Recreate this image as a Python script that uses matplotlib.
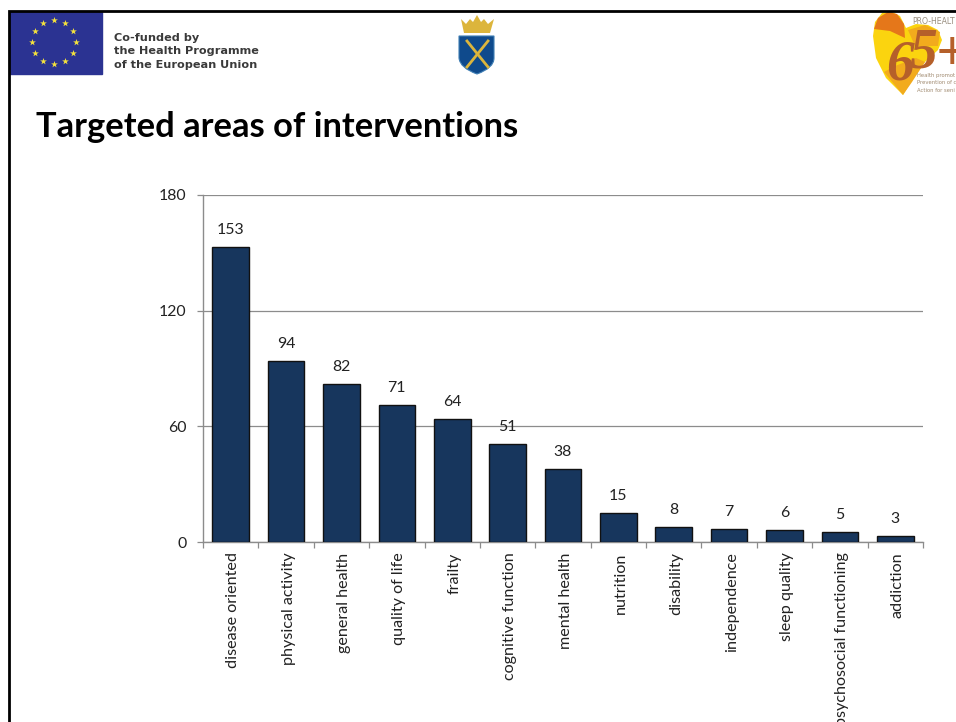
import matplotlib
matplotlib.use('Agg')
import matplotlib.pyplot as plt
import numpy as np
from matplotlib.patches import Rectangle, Polygon, PathPatch
from matplotlib.path import Path
from matplotlib.transforms import ScaledTranslation

categories = ['disease oriented', 'physical activity', 'general health', 'quality of life',
              'frailty', 'cognitive function', 'mental health', 'nutrition', 'disability',
              'independence', 'sleep quality', 'psychosocial functioning', 'addiction']
counts = [153, 94, 82, 71, 64, 51, 38, 15, 8, 7, 6, 5, 3]
yticks = [0, 60, 120, 180]

W, H = 956, 722
plt.rcParams['font.family'] = ['Lato', 'DejaVu Sans']
fig = plt.figure(figsize=(W / 100, H / 100), dpi=100)

# slide background in pixel coordinates
bg = fig.add_axes([0, 0, 1, 1], zorder=0)
bg.set_xlim(0, W)
bg.set_ylim(H, 0)
bg.axis('off')
bg.plot([8.7, 8.7, W], [H, 10.7, 10.7], color='black', lw=2.0, solid_joinstyle='miter')

# EU flag
bg.add_patch(Rectangle((10, 12), 92, 62, color='#2b3392'))
ang = np.arange(12) * np.pi / 6
bg.scatter(54 + 22 * np.cos(ang), 42 + 22 * np.sin(ang), marker='*', s=26, color='#f5e33c', lw=0)
for y, line in zip([38, 51.5, 65], ['Co-funded by', 'the Health Programme', 'of the European Union']):
    bg.text(114, y, line, family='DejaVu Sans', fontsize=8.1, weight='bold', color='#3a3a3a', va='center')

# crest
bg.add_patch(Polygon([(461, 19), (466, 24), (470, 19), (473, 22), (477, 15), (481, 22), (484, 19),
                      (488, 24), (494, 19), (490, 33), (464, 33)], color='#dcb53c', lw=0))
shield = Path([(459, 36), (494, 36), (494, 58), (494, 68), (477, 74), (460, 68), (459, 58), (459, 36)],
              [Path.MOVETO, Path.LINETO, Path.LINETO, Path.CURVE3, Path.CURVE3, Path.CURVE3, Path.CURVE3, Path.CLOSEPOLY])
bg.add_patch(PathPatch(shield, facecolor='#0f4a8c', edgecolor='#3f7fb5', lw=0.8))
bg.plot([467, 488], [41, 67], color='#dcb53c', lw=2.0)
bg.plot([488, 467], [41, 67], color='#dcb53c', lw=2.0)

# project logo
bg.add_patch(Polygon([(903, 95), (886, 78), (876, 58), (873, 36), (875, 22), (882, 13), (892, 12), (900, 16),
                      (906, 28), (916, 24), (928, 25), (938, 30), (942, 40), (938, 50), (925, 62), (912, 80)],
                     color='#fbd40f', lw=0))
bg.add_patch(Polygon([(874, 29), (878, 18), (888, 12), (897, 14), (904, 24), (905, 38), (890, 31)], color='#e5771a', lw=0))
bg.add_patch(Polygon([(884, 72), (903, 95), (912, 82), (925, 62), (916, 58), (895, 66)], color='#f2ab1d', lw=0))
bg.add_patch(Polygon([(908, 30), (925, 25), (940, 32), (938, 46), (915, 46)], color='#f2ab1d', lw=0))
for ch, x, y in [('6', 900, 65), ('5', 923, 54), ('+', 951, 56)]:
    bg.text(x, y, ch, family='Liberation Serif', style='italic', weight='bold', fontsize=40,
            color='#b5602a', ha='center', va='center')
bg.text(912, 21, 'PRO-HEALT', family='DejaVu Sans', fontsize=5.6, color='#9a8f80', va='center')
bg.text(917, 75, 'Health promot', family='DejaVu Sans', fontsize=3.8, color='#a08a70', va='center')
bg.text(917, 83, 'Prevention of c', family='DejaVu Sans', fontsize=3.8, color='#a08a70', va='center')
bg.text(917, 91, 'Action for seni', family='DejaVu Sans', fontsize=3.8, color='#a08a70', va='center')

bg.text(36, 127, 'Targeted areas of interventions', fontsize=24.8, weight='bold', color='black', va='center')

# chart
ax = fig.add_axes([203 / W, 1 - 542 / H, 720 / W, 347 / H], zorder=1)
ax.patch.set_alpha(0)
xpos = np.arange(len(counts))
ax.bar(xpos, counts, 0.66, color='#17365d', edgecolor='#111111', lw=1.0, zorder=3)
for x, v in zip(xpos, counts):
    ax.annotate(str(v), (x, v), xytext=(0, 12.2), textcoords='offset points', ha='center', va='center',
                fontsize=11.4, color='#222222', zorder=4)
ax.set_xlim(-0.5, len(counts) - 0.5)
ax.set_ylim(0, 180)
ax.set_yticks(yticks)
ax.yaxis.grid(True, color='#8c8c8c', lw=0.9)
ax.set_axisbelow(True)
for s in ['top', 'right']:
    ax.spines[s].set_visible(False)
for s in ['bottom', 'left']:
    ax.spines[s].set_color('#8c8c8c')
    ax.spines[s].set_linewidth(1.0)
ax.tick_params(axis='y', length=4.5, width=0.9, color='#8c8c8c', pad=7.5, labelsize=11.4, labelcolor='#222222')
ax.set_xticks(np.arange(len(counts) + 1) - 0.5, minor=True)
ax.tick_params(axis='x', which='minor', length=4, color='#8c8c8c', width=0.9)
ax.tick_params(axis='x', which='major', length=0, pad=7.5, labelsize=11.6, labelcolor='#222222')
ax.set_xticks(xpos)
ax.set_xticklabels(categories, rotation=90, ha='center', va='top')
shift = ScaledTranslation(2.5 / 100, 0, fig.dpi_scale_trans)
for lab in ax.get_xticklabels():
    lab.set_transform(lab.get_transform() + shift)

fig.savefig('out.png', dpi=100)
